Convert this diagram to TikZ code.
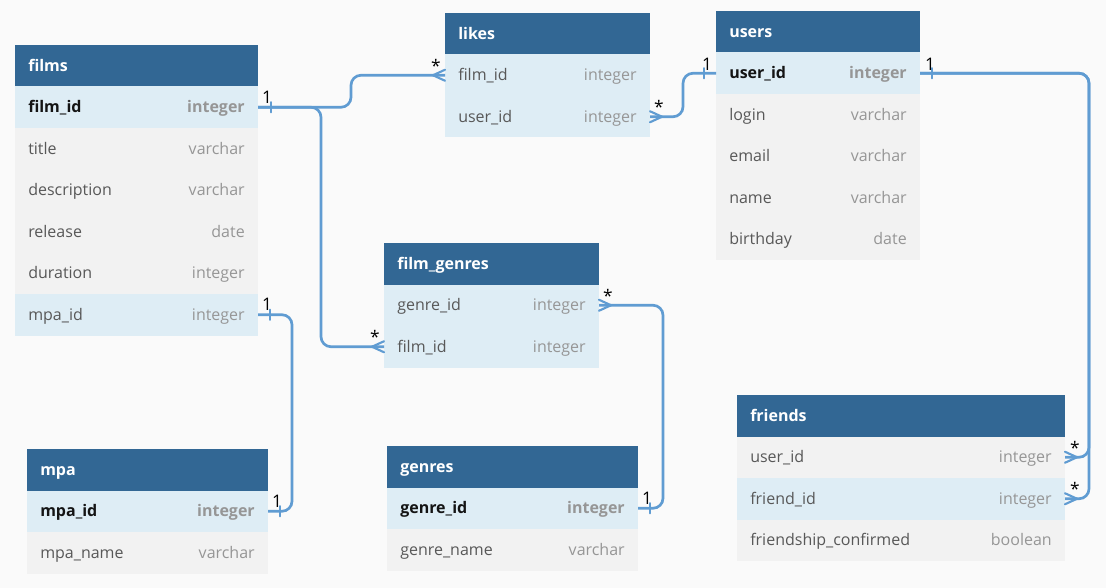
\documentclass[tikz,border=0pt]{standalone}
\usepackage{fontspec}
\setmainfont{Open Sans}
\usetikzlibrary{calc}
\definecolor{bg}{RGB}{250,250,250}
\definecolor{hdrblue}{RGB}{50,103,148}
\definecolor{rowblue}{RGB}{222,237,245}
\definecolor{rowgray}{RGB}{242,242,242}
\definecolor{relblue}{RGB}{96,156,210}
\definecolor{nametxt}{RGB}{88,88,88}
\definecolor{typetxt}{RGB}{150,150,150}
\definecolor{keytxt}{RGB}{20,20,20}
\tikzset{
  rowbox/.style={anchor=north west, minimum height={41.5*0.75pt}, inner sep=0pt, outer sep=0pt, draw=none},
  hdrbox/.style={rowbox, fill=hdrblue},
  htext/.style={anchor=mid west, inner sep=0pt, text=white, font=\fontsize{12}{14}\selectfont\bfseries},
  plainname/.style={anchor=mid west, inner sep=0pt, text=nametxt, font=\fontsize{12}{14}\selectfont},
  plaintype/.style={anchor=mid east, inner sep=0pt, text=typetxt, font=\fontsize{12}{14}\selectfont},
  keyname/.style={anchor=mid west, inner sep=0pt, text=keytxt, font=\fontsize{12}{14}\selectfont\bfseries},
  keytype/.style={anchor=mid east, inner sep=0pt, text=typetxt, font=\fontsize{12}{14}\selectfont\bfseries},
  rel/.style={draw=relblue, line width=2pt, rounded corners=7.5pt},
  relend/.style={draw=relblue, line width=1.6pt, line cap=round},
  card/.style={anchor=base, inner sep=0pt, text=black, font=\fontsize{13}{15}\selectfont},
}
% table header: id, x, top, width, title
\newcommand\thdr[5]{%
  \node[hdrbox, minimum width={#4*0.75pt}] (#1) at (#2,#3) {};
  \node[htext] (#1-title) at ([xshift=9.75pt,yshift=-1.3pt]#1.west) {#5};
}
% table row: id, x, top, index, width, fill, style, field, type
\newcommand\trow[9]{%
  \node[rowbox, fill=#6, minimum width={#5*0.75pt}] (#1) at (#2,{#3+41.5*#4}) {};
  \node[#7name] (#1-n) at ([xshift=9.75pt,yshift=-1.5pt]#1.west) {#8};
  \node[#7type] (#1-t) at ([xshift=-9.75pt,yshift=-1.5pt]#1.east) {#9};
}
\begin{document}
\begin{tikzpicture}[x=0.75pt,y=-0.75pt]
\path[use as bounding box, fill=bg] (0,0) rectangle (1106,588);

% films
\thdr{films}{15}{45}{243}{films}
\trow{films-fid}{15}{45}{1}{243}{rowblue}{key}{film\_id}{integer}
\trow{films-title}{15}{45}{2}{243}{rowgray}{plain}{title}{varchar}
\trow{films-desc}{15}{45}{3}{243}{rowgray}{plain}{description}{varchar}
\trow{films-rel}{15}{45}{4}{243}{rowgray}{plain}{release}{date}
\trow{films-dur}{15}{45}{5}{243}{rowgray}{plain}{duration}{integer}
\trow{films-mpa}{15}{45}{6}{243}{rowblue}{plain}{mpa\_id}{integer}

% likes
\thdr{likes}{445}{13}{205}{likes}
\trow{likes-fid}{445}{13}{1}{205}{rowblue}{plain}{film\_id}{integer}
\trow{likes-uid}{445}{13}{2}{205}{rowblue}{plain}{user\_id}{integer}

% users
\thdr{users}{716}{11}{204}{users}
\trow{users-uid}{716}{11}{1}{204}{rowblue}{key}{user\_id}{integer}
\trow{users-login}{716}{11}{2}{204}{rowgray}{plain}{login}{varchar}
\trow{users-email}{716}{11}{3}{204}{rowgray}{plain}{email}{varchar}
\trow{users-name}{716}{11}{4}{204}{rowgray}{plain}{name}{varchar}
\trow{users-bday}{716}{11}{5}{204}{rowgray}{plain}{birthday}{date}

% film_genres
\thdr{fg}{384}{243}{215}{film\_genres}
\trow{fg-gid}{384}{243}{1}{215}{rowblue}{plain}{genre\_id}{integer}
\trow{fg-fid}{384}{243}{2}{215}{rowblue}{plain}{film\_id}{integer}

% mpa
\thdr{mpa}{27}{449}{241}{mpa}
\trow{mpa-id}{27}{449}{1}{241}{rowblue}{key}{mpa\_id}{integer}
\trow{mpa-name}{27}{449}{2}{241}{rowgray}{plain}{mpa\_name}{varchar}

% genres
\thdr{genres}{387}{446}{251}{genres}
\trow{genres-id}{387}{446}{1}{251}{rowblue}{key}{genre\_id}{integer}
\trow{genres-name}{387}{446}{2}{251}{rowgray}{plain}{genre\_name}{varchar}

% friends
\thdr{fr}{737}{395}{328}{friends}
\trow{fr-uid}{737}{395}{1}{328}{rowgray}{plain}{user\_id}{integer}
\trow{fr-fid}{737}{395}{2}{328}{rowblue}{plain}{friend\_id}{integer}
\trow{fr-conf}{737}{395}{3}{328}{rowgray}{plain}{friendship\_confirmed}{boolean}

% bend coordinates
\coordinate (v1) at (351,0);
\coordinate (v2) at (321,0);
\coordinate (v3) at (683,0);
\coordinate (v4) at (1089,0);
\coordinate (v5) at (292,0);
\coordinate (v6) at (663,0);

% connectors
\draw[rel] (films-fid.east) -- (films-fid.east -| v1) -- (likes-fid.west -| v1) -- (likes-fid.west);
\draw[rel] (films-fid.east) -- (films-fid.east -| v2) -- (fg-fid.west -| v2) -- (fg-fid.west);
\draw[rel] (likes-uid.east) -- (likes-uid.east -| v3) -- (users-uid.west -| v3) -- (users-uid.west);
\draw[rel] (users-uid.east) -- (users-uid.east -| v4) -- (fr-uid.east -| v4) -- (fr-uid.east);
\draw[rel] (users-uid.east) -- (users-uid.east -| v4) -- (fr-fid.east -| v4) -- (fr-fid.east);
\draw[rel] (films-mpa.east) -- (films-mpa.east -| v5) -- (mpa-id.east -| v5) -- (mpa-id.east);
\draw[rel] (fg-gid.east) -- (fg-gid.east -| v6) -- (genres-id.east -| v6) -- (genres-id.east);

% one-side ticks
\draw[relend] (films-fid.east) ++(13,-5) -- ++(0,10);
\draw[relend] (users-uid.west) ++(-12,-5) -- ++(0,10);
\draw[relend] (users-uid.east) ++(12,-5) -- ++(0,10);
\draw[relend] (films-mpa.east) ++(12,-5) -- ++(0,10);
\draw[relend] (mpa-id.east) ++(12,-5) -- ++(0,10);
\draw[relend] (genres-id.east) ++(12,-5) -- ++(0,10);

% crow's feet
\draw[relend] (likes-fid.west) ++(0,-5.5) -- ++(-12,5.5) -- ++(12,5.5);
\draw[relend] (fg-fid.west) ++(0,-5.5) -- ++(-12,5.5) -- ++(12,5.5);
\draw[relend] (likes-uid.east) ++(0,-5.5) -- ++(12,5.5) -- ++(-12,5.5);
\draw[relend] (fg-gid.east) ++(0,-5.5) -- ++(12,5.5) -- ++(-12,5.5);
\draw[relend] (fr-uid.east) ++(0,-5.5) -- ++(12,5.5) -- ++(-12,5.5);
\draw[relend] (fr-fid.east) ++(0,-5.5) -- ++(12,5.5) -- ++(-12,5.5);

% cardinality labels
\node[card] (c1) at ($(films-fid.east)+(9,-4)$) {1};
\node[card] (c2) at ($(likes-fid.west)+(-9,-3)$) {*};
\node[card] (c3) at ($(fg-fid.west)+(-9,-3)$) {*};
\node[card] (c4) at ($(likes-uid.east)+(9,-3)$) {*};
\node[card] (c5) at ($(users-uid.west)+(-9,-3)$) {1};
\node[card] (c6) at ($(users-uid.east)+(10,-3)$) {1};
\node[card] (c7) at ($(fr-uid.east)+(10,-3)$) {*};
\node[card] (c8) at ($(fr-fid.east)+(10,-3)$) {*};
\node[card] (c9) at ($(films-mpa.east)+(9,-4)$) {1};
\node[card] (c10) at ($(mpa-id.east)+(9,-4)$) {1};
\node[card] (c11) at ($(fg-gid.east)+(9,-3)$) {*};
\node[card] (c12) at ($(genres-id.east)+(9,-4)$) {1};
\end{tikzpicture}
\end{document}
